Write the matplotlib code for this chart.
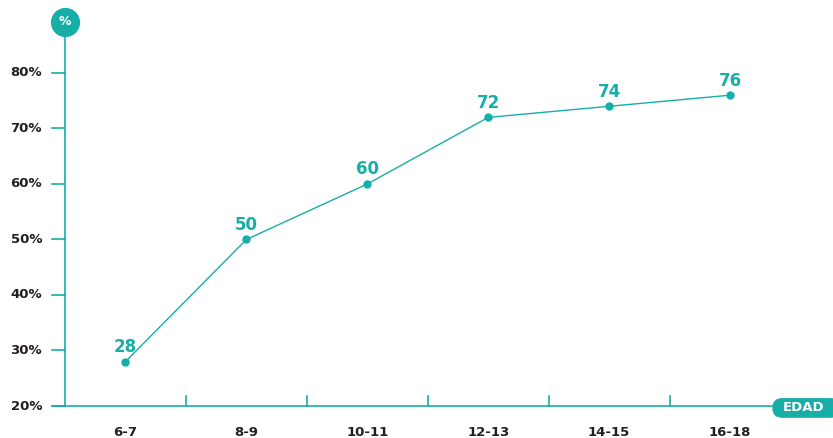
import matplotlib
matplotlib.use("Agg")
import matplotlib.pyplot as plt
from matplotlib.patches import FancyBboxPatch

# Datos
edades = ["6-7", "8-9", "10-11", "12-13", "14-15", "16-18"]
valores = [28, 50, 60, 72, 74, 76]
yticks = [20, 30, 40, 50, 60, 70, 80]
ytick_labels = ["20%", "30%", "40%", "50%", "60%", "70%", "80%"]

teal = "#17aea8"
dark = "#231f20"
plt.rcParams['font.family'] = ['DejaVu Sans']

fig = plt.figure(figsize=(8.33, 4.38), dpi=100)
ax = fig.add_axes([65/833, 32/438, 768/833, 406/438])
ax.set_xlim(-0.5, 5.851)
ax.set_ylim(20, 93.15)
ax.axis("off")

xs = list(range(len(edades)))

# ejes
ax.plot([-0.5, -0.5], [20, 89.2], color=teal, lw=1.2, clip_on=False)
ax.plot([-0.607, 5.37], [20, 20], color=teal, lw=1.2, clip_on=False)
for yt, lab in zip(yticks, ytick_labels):
    ax.plot([-0.607, -0.5], [yt, yt], color=teal, lw=1.2, clip_on=False)
    ax.text(-0.69, yt, lab, ha="right", va="center", fontsize=9.5,
            fontweight="bold", color=dark)
for i in range(len(edades) - 1):
    ax.plot([i + 0.5, i + 0.5], [20, 21.8], color=teal, lw=1.2)
for x, lab in zip(xs, edades):
    ax.text(x, 15.3, lab, ha="center", va="center", fontsize=9.5,
            fontweight="bold", color=dark, clip_on=False)

# circulo %
ax.scatter([-0.5], [89.2], s=400, color=teal, zorder=5, clip_on=False)
ax.text(-0.5, 89.3, "%", ha="center", va="center", fontsize=9,
        fontweight="bold", color="white", zorder=6)

# etiqueta EDAD
pill = FancyBboxPatch((5.355, 18.0), 0.55, 3.3, boxstyle="round,pad=0,rounding_size=0.075",
                      mutation_aspect=21.8, color=teal, clip_on=False)
ax.add_patch(pill)
ax.text(5.605, 19.65, "EDAD", ha="center", va="center", fontsize=9.5,
        fontweight="bold", color="white")

# linea
ax.plot(xs, valores, color=teal, lw=1, marker="o", markersize=5, zorder=3)
for x, v in zip(xs, valores):
    ax.annotate(str(v), (x, v), xytext=(0, 4), textcoords="offset points",
                ha="center", va="bottom", fontsize=12, fontweight="bold",
                color=teal)

fig.savefig("out.png", dpi=100)
